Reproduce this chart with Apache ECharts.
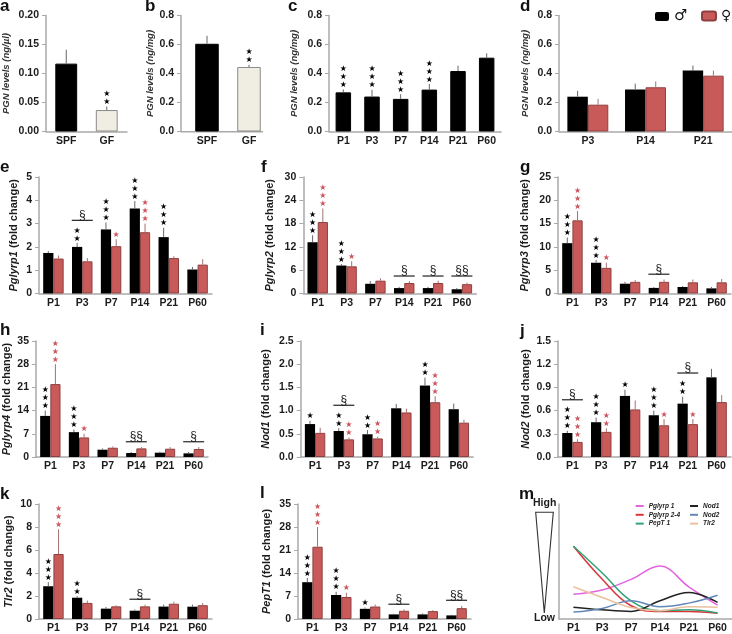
<!DOCTYPE html>
<html><head><meta charset="utf-8">
<style>html,body{margin:0;padding:0;background:#fff}#c{width:732px;height:634px}</style>
<script src="https://cdn.jsdelivr.net/npm/echarts@6/dist/echarts.min.js"></script>
</head><body><div id="c"></div>
<script>
const ages = ['P1','P3','P7','P14','P21','P60'];
const agesD = ['P3','P14','P21'];
const groups = ['SPF','GF'];
const pSex = ['♂','♀'];

const aVal=[0.117,0.037], aErr=[0.141,0.043], aStars=[0,2];
const bVal=[0.605,0.445], bErr=[0.66,0.46], bStars=[0,2];
const cVal=[0.27,0.241,0.225,0.289,0.417,0.509], cErr=[0.29,0.287,0.257,0.328,0.454,0.539], cStars=[3,3,3,3,0,0];
const dMale=[0.24,0.29,0.42], dMaleErr=[0.28,0.33,0.455];
const dFemale=[0.185,0.305,0.385], dFemaleErr=[0.225,0.345,0.42];

const eMale=[1.74,2.0,2.75,3.65,2.42,1.03], eMaleErr=[1.82,2.17,3.05,3.97,2.82,1.14], eMaleStars=[0,2,3,3,3,0];
const eFemale=[1.5,1.38,2.03,2.63,1.52,1.24], eFemaleErr=[1.63,1.52,2.33,3.0,1.6,1.47], eFemaleStars=[0,0,1,3,0,0];
const eSig=[[1,3.14,'§']];

const fMale=[13.2,7.2,2.5,1.4,1.4,1.1], fMaleErr=[15,7.6,3.2,1.7,1.7,1.4], fMaleStars=[3,3,0,0,0,0];
const fFemale=[18.4,7.0,3.3,2.7,2.7,2.4], fFemaleErr=[21.9,8.3,3.9,3.2,3.3,2.8], fFemaleStars=[3,1,0,0,0,0];
const fSig=[[3,4.5,'§'],[4,4.5,'§'],[5,4.5,'§§']];

const gMale=[10.8,6.6,2.1,1.2,1.4,1.1], gMaleErr=[12,7.2,2.5,1.4,1.6,1.4], gMaleStars=[3,3,0,0,0,0];
const gFemale=[15.7,5.5,2.5,2.5,2.4,2.4], gFemaleErr=[17.7,6.6,2.9,3.0,3.0,3.1], gFemaleStars=[3,1,0,0,0,0];
const gSig=[[3,4.14,'§']];

const hMale=[12.4,7.5,2.2,1.2,1.3,1.1], hMaleErr=[14,8.3,2.6,1.5,1.6,1.5], hMaleStars=[3,3,0,0,0,0];
const hFemale=[22,5.9,2.8,2.6,2.5,2.4], hFemaleErr=[28,7,3.2,3,3,3], hFemaleStars=[3,1,0,0,0,0];
const hSig=[[3,4.6,'§§'],[5,4.6,'§']];

const iMale=[0.71,0.56,0.49,1.05,1.54,1.03], iMaleErr=[0.78,0.62,0.58,1.14,1.71,1.15], iMaleStars=[1,2,2,0,2,0];
const iFemale=[0.52,0.38,0.40,0.96,1.18,0.74], iFemaleErr=[0.63,0.42,0.44,1.04,1.31,0.80], iFemaleStars=[0,2,2,0,3,0];
const iSig=[[1,1.115,'§']];

const jMale=[0.31,0.45,0.79,0.54,0.69,1.03], jMaleErr=[0.34,0.51,0.87,0.60,0.78,1.14], jMaleStars=[3,3,1,3,2,0];
const jFemale=[0.195,0.325,0.615,0.41,0.425,0.71], jFemaleErr=[0.23,0.37,0.73,0.49,0.49,0.80], jFemaleStars=[3,2,0,1,1,0];
const jSig=[[0,0.74,'§'],[4,1.086,'§']];

const kMale=[2.85,1.85,0.9,0.72,1.08,1.07], kMaleErr=[3.2,2.0,1.05,0.82,1.25,1.25], kMaleStars=[3,2,0,0,0,0];
const kFemale=[5.65,1.4,1.1,1.1,1.33,1.2], kFemaleErr=[7.8,1.6,1.2,1.25,1.5,1.4], kFemaleStars=[3,0,0,0,0,0];
const kSig=[[3,1.72,'§']];

const lMale=[11.2,7.3,3.1,1.4,1.4,1.1], lMaleErr=[12.5,8.3,3.5,1.6,1.7,1.3], lMaleStars=[3,3,1,0,0,0];
const lFemale=[22,6.7,3.8,2.5,2.4,3.3], lFemaleErr=[28,8,4.4,3,2.7,4], lFemaleStars=[3,1,0,0,0,0];
const lSig=[[3,4.5,'§'],[5,5.7,'§§']];

const mPglyrp1=[21.6,25.3,34.5,46,28,12];
const mPglyrp24=[63.2,34.5,11.5,6.6,6.6,4.9];
const mPepT1=[63.2,40,15.8,7.2,8,5.2];
const mNod1=[10.3,8,6.6,15.8,23,14.4];
const mNod2=[6,9.2,15.8,10.6,13.8,20.7];
const mTlr2=[28,18.7,10,7.2,10.6,10.3];

const FONT='"Liberation Sans",Arial,sans-serif';
const BLACK='#000', RED='#c85b59', REDB='#8e4040', STAR_RED='#cb5660', GRAY='#a9a9a9', TXT='#1c1c1c';
const grid=[],xAxis=[],yAxis=[],series=[];

function addPanel(p){
  const ix=grid.length;
  grid.push({left:p.left,top:p.top,width:p.width,height:p.height});
  xAxis.push({gridIndex:ix,type:'category',data:p.cats,axisTick:{show:false},
    axisLine:{show:!p.noXLine,lineStyle:{color:GRAY,width:1.5}},
    axisLabel:{interval:0,margin:4,color:TXT,fontFamily:FONT,fontWeight:'bold',fontSize:10.5}});
  yAxis.push({gridIndex:ix,type:'value',min:p.min,max:p.max,interval:p.step,offset:p.yOffset||0,
    splitLine:{show:false},
    axisLine:{show:true,lineStyle:{color:GRAY,width:1.5}},
    axisTick:{show:!!p.step,length:4,lineStyle:{color:GRAY,width:1}},
    axisLabel:{show:!!p.step,margin:7,color:TXT,fontFamily:FONT,fontWeight:'bold',fontSize:10.5,
      formatter:p.dec===undefined?null:(v)=>v.toFixed(p.dec)},
    name:p.name,nameLocation:'middle',nameGap:p.gap,nameRotate:90,
    nameTextStyle:p.nameStyle});
}
function errSeries(ix,val,err,stars,off,color,starColor){
  series.push({type:'custom',xAxisIndex:ix,yAxisIndex:ix,silent:true,z:3,clip:false,
    encode:{x:0,y:1},data:val.map((v,i)=>[i,err[i],v,stars[i]]),
    renderItem:(params,api)=>{
      const i=api.value(0), band=api.size([1,0])[0];
      const x=api.coord([i,0])[0]+off*band;
      const top=api.coord([i,api.value(1)])[1], base=api.coord([i,api.value(2)])[1];
      const kids=[{type:'line',shape:{x1:x,y1:base,x2:x,y2:top},style:{stroke:color,lineWidth:1}}];
      for(let s=0;s<api.value(3);s++){
        kids.push({type:'text',x:x,y:top-4.5-8*s,style:{text:'★',fill:starColor,align:'center',verticalAlign:'middle',
          font:'8px "DejaVu Sans"'}});
      }
      return {type:'group',children:kids};
    }});
}
function sigSeries(ix,sig){
  if(!sig) return;
  series.push({type:'custom',xAxisIndex:ix,yAxisIndex:ix,silent:true,z:4,clip:false,
    encode:{x:0,y:1},data:sig.map(s=>[s[0],s[1]]),
    renderItem:(params,api)=>{
      const c=api.coord([api.value(0),api.value(1)]);
      return {type:'group',children:[
        {type:'line',shape:{x1:c[0]-10.5,y1:c[1],x2:c[0]+10.5,y2:c[1]},style:{stroke:'#222',lineWidth:1.2}},
        {type:'text',x:c[0],y:c[1]-5,style:{text:sig[params.dataIndex][2],fill:'#222',align:'center',verticalAlign:'middle',
          font:'12px '+FONT}}
      ]};
    }});
}
function single(p,val,err,stars,colors,borders,bw){
  addPanel(p);const ix=grid.length-1;
  series.push({name:p.id,type:'bar',xAxisIndex:ix,yAxisIndex:ix,barWidth:bw,
    data:val.map((v,i)=>({value:v,itemStyle:{color:colors[i%colors.length],borderColor:borders[i%borders.length],borderWidth:1}}))});
  errSeries(ix,val,err,stars,0,'#666',BLACK);
}
function dbl(p,mv,me,ms,fv,fe,fs,sig,names){
  addPanel(p);const ix=grid.length-1;
  series.push({name:names?names[0]:p.id+' male',type:'bar',xAxisIndex:ix,yAxisIndex:ix,barWidth:'35.5%',barGap:'0%',
    data:mv,itemStyle:{color:BLACK}});
  series.push({name:names?names[1]:p.id+' female',type:'bar',xAxisIndex:ix,yAxisIndex:ix,barWidth:'35.5%',barGap:'0%',
    data:fv,itemStyle:{color:RED,borderColor:REDB,borderWidth:1}});
  errSeries(ix,mv,me,ms,-0.1775,'#666',BLACK);
  errSeries(ix,fv,fe,fs,0.1775,'#a57070',STAR_RED);
  sigSeries(ix,sig);
}
const pgnStyle={color:'#333',fontFamily:FONT,fontWeight:'bold',fontStyle:'italic',fontSize:9.5};
function fold(gene){
  return {name:'{i|'+gene+'}{r| (fold change)}',
    nameStyle:{color:TXT,fontFamily:FONT,fontWeight:'bold',fontSize:11,
      rich:{i:{fontFamily:FONT,fontWeight:'bold',fontStyle:'italic',fontSize:11,color:TXT},
            r:{fontFamily:FONT,fontWeight:'bold',fontSize:11,color:TXT}}}};
}
const zeros=[0,0,0];
const rowA={top:15.5,height:116};
const rowE={top:177,height:116.5};
const rowH={top:341,height:116};
const rowK={top:504,height:116};

single({id:'a',cats:groups,left:45,width:82,...rowA,min:0,max:0.2,step:0.05,dec:2,name:'PGN levels (ng/µl)',gap:35,nameStyle:pgnStyle},
  aVal,aErr,aStars,[BLACK,'#f0ede3'],[BLACK,'#8a8a8a'],'54%');
single({id:'b',cats:groups,left:186,width:84,...rowA,min:0,max:0.8,step:0.2,dec:1,yOffset:5,noXLine:true,name:'PGN levels (ng/mg)',gap:26,nameStyle:pgnStyle},
  bVal,bErr,bStars,[BLACK,'#f0ede3'],[BLACK,'#8a8a8a'],'56%');
single({id:'c',cats:ages,left:329,width:172,...rowA,min:0,max:0.8,step:0.2,dec:1,name:'PGN levels (ng/mg)',gap:30,nameStyle:pgnStyle},
  cVal,cErr,cStars,[BLACK],[BLACK],'54%');
dbl({id:'d',cats:agesD,left:559,width:173,...rowA,min:0,max:0.8,step:0.2,dec:1,name:'PGN levels (ng/mg)',gap:29,nameStyle:pgnStyle},
  dMale,dMaleErr,zeros,dFemale,dFemaleErr,zeros,null,pSex);

dbl({id:'e',cats:ages,left:39,width:173,...rowE,min:0,max:5,step:1,...fold('Pglyrp1'),gap:20},eMale,eMaleErr,eMaleStars,eFemale,eFemaleErr,eFemaleStars,eSig);
dbl({id:'f',cats:ages,left:303.3,width:173,...rowE,min:0,max:30,step:6,...fold('Pglyrp2'),gap:28},fMale,fMaleErr,fMaleStars,fFemale,fFemaleErr,fFemaleStars,fSig);
dbl({id:'g',cats:ages,left:558,width:173,...rowE,min:0,max:25,step:5,...fold('Pglyrp3'),gap:28},gMale,gMaleErr,gMaleStars,gFemale,gFemaleErr,gFemaleStars,gSig);

dbl({id:'h',cats:ages,left:36,width:172,...rowH,min:0,max:35,step:7,...fold('Pglyrp4'),gap:24},hMale,hMaleErr,hMaleStars,hFemale,hFemaleErr,hFemaleStars,hSig);
dbl({id:'i',cats:ages,left:300.7,width:172.5,...rowH,min:0,max:2.5,step:0.5,dec:1,...fold('Nod1'),gap:29},iMale,iMaleErr,iMaleStars,iFemale,iFemaleErr,iFemaleStars,iSig);
dbl({id:'j',cats:ages,left:558,width:173,...rowH,min:0,max:1.5,step:0.3,dec:1,...fold('Nod2'),gap:27},jMale,jMaleErr,jMaleStars,jFemale,jFemaleErr,jFemaleStars,jSig);

dbl({id:'k',cats:ages,left:39,width:173,...rowK,min:0,max:10,step:2,...fold('Tlr2'),gap:25},kMale,kMaleErr,kMaleStars,kFemale,kFemaleErr,kFemaleStars,kSig);
dbl({id:'l',cats:ages,left:298,width:173,...rowK,min:0,max:35,step:7,...fold('PepT1'),gap:26},lMale,lMaleErr,lMaleStars,lFemale,lFemaleErr,lFemaleStars,lSig);

addPanel({id:'m',cats:ages,left:559,width:173,...rowK,min:0,max:100,name:'',gap:0,nameStyle:{}});
const mIx=grid.length-1;
const lines=[['Pglyrp 1',mPglyrp1,'#e264de'],['Pglyrp 2-4',mPglyrp24,'#d8343a'],['PepT 1',mPepT1,'#2fa373'],
             ['Nod1',mNod1,'#222222'],['Nod2',mNod2,'#6488b8'],['Tlr2',mTlr2,'#eac0a0']];
lines.forEach(l=>series.push({name:l[0],type:'line',xAxisIndex:mIx,yAxisIndex:mIx,data:l[1],smooth:0.4,showSymbol:false,
  lineStyle:{color:l[2],width:1.5},itemStyle:{color:l[2]}}));

const mLegend=(names,left)=>({data:names,orient:'vertical',left:left,top:502,padding:0,itemWidth:8,itemHeight:2,itemGap:0.8,icon:'rect',
  textStyle:{fontFamily:FONT,fontWeight:'bold',fontStyle:'italic',fontSize:6.5,color:'#222',lineHeight:8,padding:[0,0,0,0]},selectedMode:false});

const letters=[['a',0,7],['b',145,7],['c',288,7],['d',520,7],['e',0,168],['f',261,168],['g',520,168],
               ['h',0,331],['i',260,331],['j',520,332],['k',0,495],['l',260,494],['m',519,495]];
const graphic=letters.map(l=>({type:'text',left:l[1],top:l[2]-9,style:{text:l[0],font:'bold 17px '+FONT,fill:'#111'}}));
graphic.push({type:'line',shape:{x1:181,y1:131.7,x2:263,y2:131.7},style:{stroke:GRAY,lineWidth:1.5},silent:true});
graphic.push({type:'polygon',shape:{points:[[535.7,512.3],[553.3,512.3],[544.3,613]]},style:{fill:'#fff',stroke:'#333',lineWidth:1.1}});
graphic.push({type:'text',left:533,top:498,style:{text:'High',font:'bold 10.5px '+FONT,fill:TXT}});
graphic.push({type:'text',left:534,top:613,style:{text:'Low',font:'bold 10.5px '+FONT,fill:TXT}});

const chart=echarts.init(document.getElementById('c'),null,{renderer:'canvas',width:732,height:634});
chart.setOption({animation:false,backgroundColor:'#fff',grid,xAxis,yAxis,series,graphic,
  legend:[
    {data:[pSex[0]],left:655,top:9,padding:0,itemWidth:14,itemHeight:9,selectedMode:false,
      textStyle:{fontFamily:'"DejaVu Sans"',fontSize:15,color:'#111'}},
    {data:[pSex[1]],left:701,top:9,padding:0,itemWidth:14,itemHeight:9,selectedMode:false,
      textStyle:{fontFamily:'"DejaVu Sans"',fontSize:14,color:'#111'}},
    mLegend(['Pglyrp 1','Pglyrp 2-4','PepT 1'],635.7),
    mLegend(['Nod1','Nod2','Tlr2'],690)
  ]});
</script></body></html>
